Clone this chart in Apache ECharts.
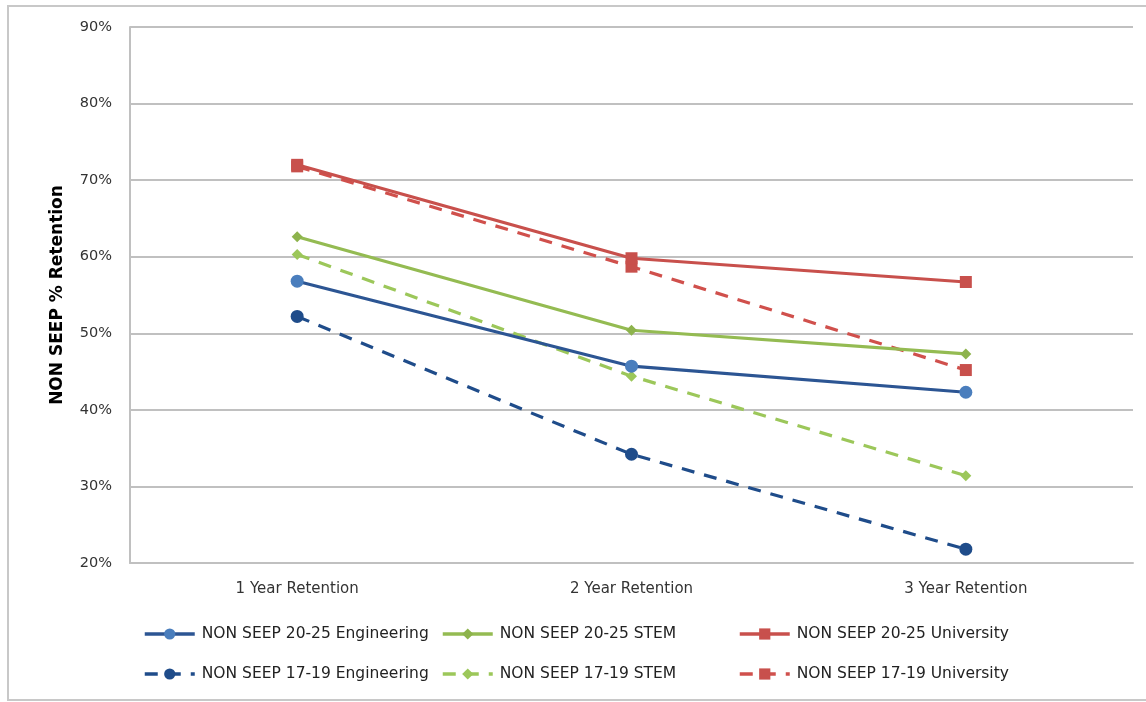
<!DOCTYPE html>
<html>
<head>
<meta charset="utf-8">
<script src="https://cdn.jsdelivr.net/npm/echarts@6/dist/echarts.min.js"></script>
<style>html,body{margin:0;padding:0;background:#fff;}#c{width:1146px;height:702px;}</style>
</head>
<body>
<div id="c"></div>
<script>
var categories = ['1 Year Retention', '2 Year Retention', '3 Year Retention'];
var eng2025 = [56.8, 45.7, 42.3];
var stem2025 = [62.6, 50.4, 47.3];
var univ2025 = [72.0, 59.8, 56.7];
var eng1719 = [52.2, 34.2, 21.8];
var stem1719 = [60.3, 44.4, 31.4];
var univ1719 = [71.8, 58.7, 45.2];
var yTicks = { min: 20, max: 90, interval: 10 };

var FONT = 'DejaVu Sans';
function mk(name, data, lineColor, markColor, symbol, size, dashed) {
  return {
    name: name, type: 'line', data: data,
    symbol: symbol, symbolSize: size, showSymbol: true,
    lineStyle: { color: lineColor, width: 3.2, type: dashed ? [13, 10] : 'solid' },
    itemStyle: { color: markColor },
    z: dashed ? 2 : 3
  };
}
var series = [
  mk('NON SEEP 20-25 Engineering', eng2025, '#2c5593', '#4a7ebd', 'circle', 13, false),
  mk('NON SEEP 17-19 Engineering', eng1719, '#1f4c8a', '#1f4c8a', 'circle', 13, true),
  mk('NON SEEP 20-25 STEM', stem2025, '#94bb52', '#8db34c', 'diamond', 11, false),
  mk('NON SEEP 17-19 STEM', stem1719, '#9cc75a', '#9cc75a', 'diamond', 11, true),
  mk('NON SEEP 20-25 University', univ2025, '#c8504c', '#c8504c', 'rect', 12, false),
  mk('NON SEEP 17-19 University', univ1719, '#d0504c', '#c8504c', 'rect', 12, true)
];
function lg(left, names) {
  return {
    orient: 'vertical', left: left, top: 621, itemWidth: 50, itemHeight: 14, itemGap: 24,
    data: names, selectedMode: false,
    lineStyle: { width: 3.5 },
    textStyle: { fontFamily: FONT, fontSize: 15.5, color: '#222', padding: [0, 0, 0, 2] }
  };
}
var chart = echarts.init(document.getElementById('c'));
chart.setOption({
  animation: false,
  backgroundColor: '#fff',
  grid: { left: 130, right: 13, top: 27, bottom: 139 },
  graphic: [{ type: 'rect', shape: { x: 8, y: 6, width: 1150, height: 694 }, style: { fill: 'none', stroke: '#c8c8c8', lineWidth: 2 }, silent: true }],
  legend: [
    lg(138, ['NON SEEP 20-25 Engineering', 'NON SEEP 17-19 Engineering']),
    lg(436, ['NON SEEP 20-25 STEM', 'NON SEEP 17-19 STEM']),
    lg(733, ['NON SEEP 20-25 University', 'NON SEEP 17-19 University'])
  ],
  xAxis: {
    type: 'category', data: categories, boundaryGap: true,
    axisLine: { show: true, lineStyle: { color: '#c0c0c0', width: 2 } },
    axisTick: { show: false },
    axisLabel: { fontFamily: FONT, fontSize: 15, color: '#333', margin: 19 }
  },
  yAxis: {
    type: 'value', min: yTicks.min, max: yTicks.max, interval: yTicks.interval,
    name: 'NON SEEP % Retention', nameLocation: 'middle', nameGap: 64, nameRotate: 90,
    nameTextStyle: { fontFamily: FONT, fontSize: 17, fontWeight: 'bold', color: '#000' },
    axisLine: { show: true, lineStyle: { color: '#c0c0c0', width: 2 } },
    axisTick: { show: false },
    splitLine: { lineStyle: { color: '#c0c0c0', width: 2 } },
    axisLabel: { formatter: '{value}%', fontFamily: FONT, fontSize: 14.5, color: '#333', margin: 18 }
  },
  series: series
});
</script>
</body>
</html>
